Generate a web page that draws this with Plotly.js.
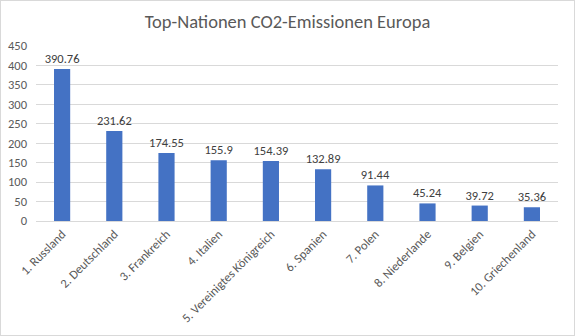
<!DOCTYPE html>
<html>
<head>
<meta charset="utf-8">
<script src="https://cdn.plot.ly/plotly-3.0.1.min.js"></script>
<style>
html,body{margin:0;padding:0;background:#fff;}
#wrap{width:575px;height:336px;box-sizing:border-box;border:1px solid #d9d9d9;}
#chart{width:573px;height:334px;}
</style>
</head>
<body>
<div id="wrap"><div id="chart"></div></div>
<script>
const categories = ["1. Russland","2. Deutschland","3. Frankreich","4. Italien","5. Vereinigtes Königreich","6. Spanien","7. Polen","8. Niederlande","9. Belgien","10. Griechenland"];
const emissions = [390.76, 231.62, 174.55, 155.9, 154.39, 132.89, 91.44, 45.24, 39.72, 35.36];
const yTicks = [0,50,100,150,200,250,300,350,400,450];

const font = "Calibri, Carlito, 'Open Sans', 'Liberation Sans', sans-serif";
Plotly.newPlot("chart", [{
  type: "bar",
  x: categories,
  y: emissions,
  text: emissions.map(v => String(v)),
  textposition: "outside",
  constraintext: "none",
  cliponaxis: false,
  textfont: {family: font, size: 12.5, color: "#404040"},
  marker: {color: "#4472C4"},
  hoverinfo: "x+y"
}], {
  width: 573, height: 334,
  margin: {l: 35, r: 16, t: 45, b: 114},
  paper_bgcolor: "#fff", plot_bgcolor: "#fff",
  bargap: 0.69,
  showlegend: false,
  title: {text: "Top-Nationen CO2-Emissionen Europa", font: {family: font, size: 18.5, color: "#595959"}, x: 0.5, xanchor: "center", y: 0.94, yanchor: "middle"},
  xaxis: {
    tickangle: -45,
    tickfont: {family: font, size: 12.5, color: "#595959"},
    showline: true, linecolor: "#d9d9d9", linewidth: 1,
    ticks: "", showgrid: false
  },
  yaxis: {
    range: [0, 450],
    tickvals: yTicks,
    tickfont: {family: font, size: 12.5, color: "#595959"},
    showgrid: true, gridcolor: "#d9d9d9", gridwidth: 1,
    zeroline: false, showline: false, ticks: "",
    ticklabelstandoff: 8
  },
  font: {family: font}
}, {displayModeBar: false, staticPlot: true});
</script>
</body>
</html>
